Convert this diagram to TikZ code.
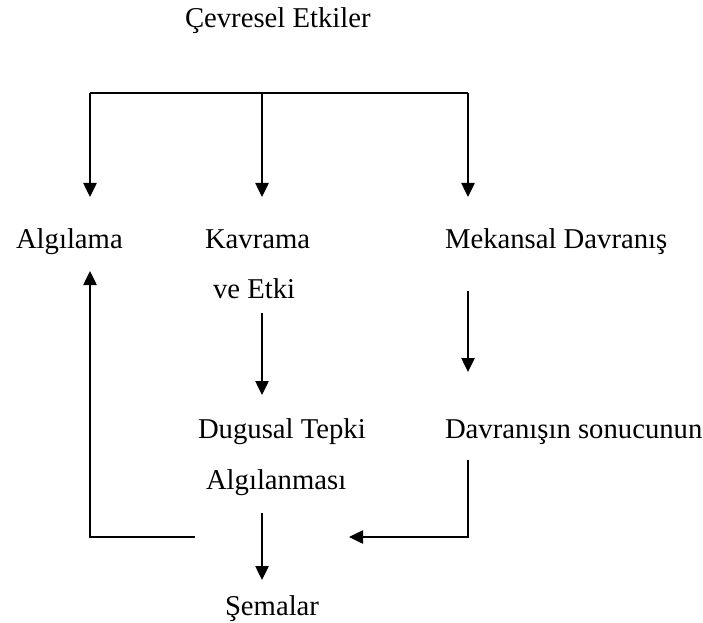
\documentclass[tikz,border=0pt]{standalone}
\usepackage{fontspec}
\setmainfont{Liberation Serif}
\usetikzlibrary{arrows.meta}
\begin{document}
\begin{tikzpicture}[x=1bp,y=-1bp,
  lbl/.style={anchor=base west,inner sep=0pt,outer sep=0pt,font=\fontsize{28.8}{34}\selectfont},
  conn/.style={line width=2.5bp},
  arr/.style={conn,-{Triangle[width=13bp,length=14bp]}}]
\useasboundingbox (0,0) rectangle (703,623);
% texts
\node[lbl] (cev) at (185,28) {Çevresel Etkiler};
\node[lbl] (alg) at (16,248) {Algılama};
\node[lbl] (kav) at (205,248) {Kavrama};
\node[lbl] (kav2) at (213,298) {ve Etki};
\node[lbl] (mek) at (445,248) {Mekansal Davranış};
\node[lbl] (dug) at (198,438) {Dugusal Tepki};
\node[lbl] (dug2) at (206,489) {Algılanması};
\node[lbl] (dav) at (445,438) {Davranışın sonucunun};
\node[lbl] (sem) at (225,615) {Şemalar};
% connector points
\coordinate (tL) at (90,93);
\coordinate (tM) at (262,93);
\coordinate (tR) at (468,93);
\coordinate (algIn) at (90,197);
\coordinate (kavIn) at (262,197);
\coordinate (mekIn) at (468,197);
\coordinate (kavOut) at (262,313);
\coordinate (dugIn) at (262,395);
\coordinate (mekOut) at (468,291);
\coordinate (davIn) at (468,372);
\coordinate (davOut) at (468,460);
\coordinate (davCorner) at (468,537);
\coordinate (retIn) at (349,537);
\coordinate (retOut) at (195,537);
\coordinate (algCorner) at (90,537);
\coordinate (algUp) at (90,271);
\coordinate (dugOut) at (262,513);
\coordinate (semIn) at (262,580);
% connectors
\draw[conn] (tL) -- (tR);
\draw[arr] (tL) -- (algIn);
\draw[arr] (tM) -- (kavIn);
\draw[arr] (tR) -- (mekIn);
\draw[arr] (kavOut) -- (dugIn);
\draw[arr] (mekOut) -- (davIn);
\draw[arr] (davOut) -- (davCorner) -- (retIn);
\draw[arr] (retOut) -- (algCorner) -- (algUp);
\draw[arr] (dugOut) -- (semIn);
\end{tikzpicture}
\end{document}
